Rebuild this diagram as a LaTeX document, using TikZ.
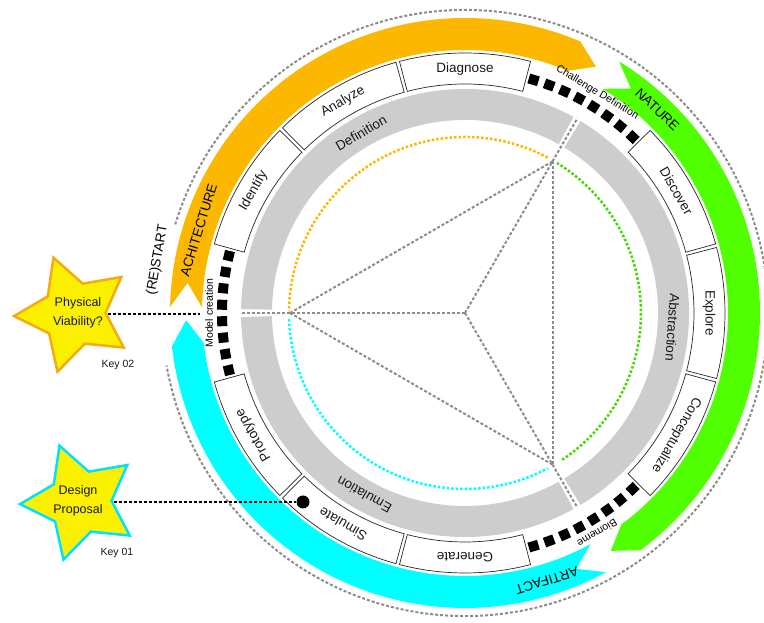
\documentclass[tikz,border=0pt]{standalone}
\usepackage{fontspec}
\setmainfont{Liberation Sans}
\usetikzlibrary{shapes.geometric,calc}
\definecolor{orangeband}{RGB}{252,184,0}
\definecolor{greenband}{RGB}{80,255,0}
\definecolor{cyanband}{RGB}{0,255,255}
\definecolor{ringgray}{RGB}{205,205,205}
\definecolor{dotgray}{RGB}{140,140,140}
\definecolor{staryellow}{RGB}{250,240,0}
\definecolor{starorange}{RGB}{245,170,20}
\definecolor{starcyan}{RGB}{0,225,255}
\definecolor{txt}{RGB}{25,25,25}
\newcommand{\chevron}[4]{%
  \fill[#1] (#2:295pt) arc[start angle=#2, end angle=#3, radius=295pt]
    -- (#3-#4:279pt) -- (#3:263pt)
    arc[start angle=#3, end angle=#2, radius=263pt]
    -- (#2-#4:279pt) -- cycle;}
\tikzset{
  boxlabel/.style={font=\fontsize{13.5}{16}\selectfont, text=txt, inner sep=0pt},
  bandlabel/.style={font=\fontsize{13.5}{16}\selectfont, text=black, inner sep=0pt},
  smalllabel/.style={font=\fontsize{10.5}{12}\selectfont, text=black, inner sep=0pt},
  startext/.style={font=\fontsize{12.5}{19}\selectfont, text=txt, align=center, inner sep=0pt},
  keytext/.style={font=\fontsize{10.5}{12}\selectfont, text=txt, inner sep=0pt},
  sqmark/.style={rectangle, fill=black, minimum size=10pt, inner sep=0pt},
  segbox/.style={draw=black!85, line width=0.7pt, fill=white},
  graydash/.style={draw=dotgray, line width=2pt, dash pattern=on 3pt off 2pt},
  coldot/.style={line width=2.5pt, dash pattern=on 2.5pt off 2pt},
  blackdash/.style={draw=black, line width=2.5pt, dash pattern=on 3pt off 2pt},
  starshape/.style={star, star points=5, star point ratio=1.9, minimum size=120pt,
    inner sep=0pt, line width=2.5pt, fill=staryellow, shape border rotate=20},
}
\begin{document}
\begin{tikzpicture}[x=1pt,y=1pt]
\useasboundingbox (0,0) rectangle (764,623);
\begin{scope}[shift={(465,310)}]
  % outer dotted circle
  \draw[graydash] (163:303pt) arc[start angle=163, end angle=-170, radius=303pt];
  % chevron bands
  \chevron{orangeband}{178.8}{67}{5}
  \chevron{greenband}{58.5}{-53.5}{5}
  \chevron{cyanband}{-61.5}{-173.5}{5}
  \node[bandlabel, rotate=72.7] (arch) at (162.7:279pt) {ACHITECTURE};
  \node[bandlabel, rotate=-43.4] (nat) at (46.6:280pt) {NATURE};
  \node[bandlabel, rotate=-163] (art) at (-73:280pt) {ARTIFACT};
  \node[bandlabel, rotate=80] (restart) at (170.2:312pt) {(RE)START};
  % boxes
  \foreach \a/\t in {90/Diagnose,120/Analyze,150/Identify,210/Prototype,240/Simulate,270/Generate,330/Conceptualize,0/Explore,30/Discover}{
    \pgfmathsetmacro{\lo}{\a-14.6}
    \pgfmathsetmacro{\hi}{\a+14.6}
    \draw[segbox] (\lo:229pt) arc[start angle=\lo, end angle=\hi, radius=229pt]
      -- (\hi:260pt) arc[start angle=\hi, end angle=\lo, radius=260pt] -- cycle;
    \pgfmathsetmacro{\rot}{\a-90}
    \node[boxlabel, rotate=\rot] (b\a) at (\a:244pt) {\t};
  }
  % square dash groups
  \foreach \g in {60,180,300}{
    \foreach \k in {0,...,7}{
      \pgfmathsetmacro{\ang}{\g+(\k-3.5)*3.886}
      \pgfmathsetmacro{\rot}{\ang-90}
      \node[sqmark, rotate=\rot] at (\ang:243pt) {};
    }
  }
  \node[smalllabel, rotate=-31] (chal) at (59:257pt) {Challenge Definition};
  \node[smalllabel, rotate=90] (model) at (180:256pt) {Model creation};
  \node[smalllabel, rotate=211] (biom) at (-59:257pt) {Biomeme};
  % gray ring
  \draw[ringgray, line width=31pt] (61:208.5pt) arc[start angle=61, end angle=179, radius=208.5pt];
  \draw[ringgray, line width=31pt] (-59:208.5pt) arc[start angle=-59, end angle=59, radius=208.5pt];
  \draw[ringgray, line width=31pt] (181:208.5pt) arc[start angle=181, end angle=299, radius=208.5pt];
  \node[boxlabel, rotate=30] (def) at (120:208pt) {Definition};
  \node[boxlabel, rotate=-94] (abs) at (-4:208pt) {Abstraction};
  \node[boxlabel, rotate=151] (emu) at (241:208pt) {Emulation};
  % colored dotted arcs
  \draw[coldot, orangeband] (62:176pt) arc[start angle=62, end angle=179.5, radius=176pt];
  \draw[coldot, greenband!85!black] (-56.5:176pt) arc[start angle=-56.5, end angle=58.5, radius=176pt];
  \draw[coldot, cyanband] (182:176pt) arc[start angle=182, end angle=298, radius=176pt];
  % inner dashed lines
  \coordinate (O) at (0,0);
  \coordinate (v1) at (180:175pt);
  \coordinate (v2) at (60:175pt);
  \coordinate (v3) at (-60:175pt);
  \coordinate (e1) at (180:225pt);
  \coordinate (e2) at (60:225pt);
  \coordinate (e3) at (-60:225pt);
  \draw[graydash] (O) -- (e1);
  \draw[graydash] (O) -- (e2);
  \draw[graydash] (O) -- (e3);
  \draw[graydash] (v1) -- (v2);
  \draw[graydash] (v1) -- (v3);
  \draw[graydash] (v2) -- (v3);
\end{scope}
% stars
\node[starshape, draw=starorange] (s1) at (74,309) {};
\node[startext] (s1t) at (78,310) {Physical\\Viability?};
\node[keytext] (k2) at (118,258) {Key 02};
\node[starshape, draw=starcyan] (s2) at (80,121) {};
\node[startext] (s2t) at (78,122) {Design\\Proposal};
\node[keytext] (k1) at (117,70) {Key 01};
% connectors
\coordinate (p1) at (200,309);
\draw[blackdash] (s1) -- (p1);
\node[circle, fill=black, minimum size=13pt, inner sep=0pt] (dot) at (303,121) {};
\draw[blackdash] (s2) -- (dot);
\end{tikzpicture}
\end{document}
